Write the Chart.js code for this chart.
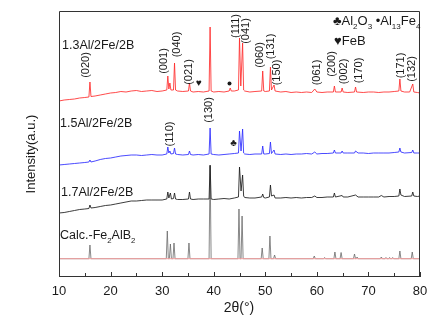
<!DOCTYPE html>
<html>
<head>
<meta charset="utf-8">
<script src="https://cdn.jsdelivr.net/npm/chart.js@4.4.1/dist/chart.umd.min.js"></script>
<style>
  html, body { margin: 0; padding: 0; background: #fff; }
  #wrap { width: 444px; height: 326px; }
</style>
</head>
<body>
<div id="wrap"><canvas id="xrdChart" width="444" height="326"></canvas></div>
<script>
'use strict';

// --- data: [2theta, intensity (a.u., offset stacked)] ---
const red13 = [
  [10,175],[11,176],[12,176.5],[13,177],[14,178],[15,178.5],[15.8,179],[16.0,194],[16.2,179.5],
  [17,180],[18,181],[19,182],[20,183],[21,183.5],[22,184.5],[23,184],[24,185],[25,185.5],
  [26,184.5],[27,185],[28,185.5],[29,184.5],[30,185],[30.9,186],[31.1,200],[31.3,187],
  [31.5,193],[31.7,186],[32.2,186],[32.4,213],[32.6,186],[33,185],[34,184.5],[35.1,185],
  [35.3,193],[35.5,185],[36,184],[37,184.5],[38,184],[39.1,185],[39.3,249],[39.5,185],
  [40,184],[41,184.5],[42,184],[43,185],[43.2,188],[43.4,185],[44,185],[44.8,186],[45.0,238],
  [45.25,190],[45.6,233],[45.8,186],[46,185],[47,184],[48,184.5],[49.3,185],[49.5,205],
  [49.7,185],[50,184.5],[50.8,185],[51.0,209],[51.2,186],[51.7,191],[51.9,185],[53,184],
  [54,184.5],[55,183.5],[56,184],[57,183.5],[58,184],[59,183.5],[59.6,187],[60,184],
  [61,183.5],[62,184],[63.2,184],[63.4,190],[63.6,184],[64.7,184],[64.9,188],[65.1,184],
  [66,183.5],[67.3,184],[67.5,189],[67.7,184],[69,183.5],[70,184],[71,184],[72,183.5],
  [73,184],[74,184],[75,184.5],[75.9,185],[76.1,197],[76.3,185],[77,184],[78,184],
  [78.6,192],[78.8,184],[79.5,183.5],[80,183]
];

const blue15 = [
  [10,111],[11,111.5],[12,112],[13,112.5],[14,113],[15,113.5],[15.8,114],[16.0,116],[16.2,114],
  [17,115],[18,116.5],[19,117.5],[20,118],[21,119],[22,120],[23,120.5],[24,121],[25,121],
  [26,120.5],[27,121],[28,121.5],[29,121],[30,121],[30.9,122],[31.1,129],[31.3,123],
  [31.5,125],[31.7,122],[32.2,122.5],[32.4,128],[32.6,122],[33,121.5],[34,121],[35.1,121.5],
  [35.3,125],[35.5,121.5],[36,121],[37,121.5],[38,121],[39.1,122],[39.3,148],[39.5,122],
  [40,121.5],[41,121],[42,121.5],[43,122],[44,122.5],[44.8,123],[45.0,145],[45.3,125],
  [45.6,147],[45.8,123],[46,122],[47,121.5],[48,122],[49.3,122],[49.5,130],[49.7,122],
  [50,122],[50.8,122.5],[51.0,134],[51.2,122.5],[51.7,126],[51.9,122],[53,121.5],[54,122],
  [55,121.5],[56,122],[57,122],[58,122.5],[59,122],[59.6,124],[60,122],[61,122.5],
  [62,122.5],[63.2,123],[63.4,126],[63.6,123],[64.7,123],[64.9,125],[65.1,123],[66,123],
  [67.3,123],[67.5,125],[68,123],[69,123],[70,122.5],[71,123],[72,123],[73,123],[74,123],
  [75,123.5],[75.9,124],[76.1,128],[76.3,124],[77,123],[78.4,123.5],[78.6,126],[78.8,123],
  [79.5,123],[80,123]
];

const black17 = [
  [10,63],[11,63.5],[12,64.5],[13,65.5],[14,66.5],[15,67],[15.8,67.5],[16.0,71],[16.2,68],
  [17,68.5],[18,69.5],[19,70.5],[20,71],[21,72],[22,73],[23,74],[24,75],[25,75],[26,75.5],
  [27,76],[28,76],[29,76],[30,76],[30.9,77],[31.1,84],[31.3,78],[31.6,83],[31.8,77],
  [32.2,77.5],[32.4,83],[32.6,77],[33,76.5],[34,76.5],[35.1,77],[35.3,84],[35.5,77],
  [36,76.5],[37,77],[38,77],[39.1,77],[39.3,111],[39.5,77],[40,76.5],[41,77],[42,77.5],
  [43,77],[44,78],[44.8,79],[45.0,109],[45.3,85],[45.6,101],[45.8,80],[46,78.5],[47,78],
  [48,78],[49.3,79],[49.5,82],[49.7,78.5],[50,78],[50.8,79],[51.0,91],[51.2,80],[51.7,81],
  [51.9,78],[53,78],[54,78.5],[55,78],[56,78.5],[57,78],[58,78.5],[59,78.5],[59.6,80],
  [60,78.5],[61,78.5],[62,79],[63.2,79],[63.4,83],[63.6,79],[64.9,80.5],[65.1,79],[66,79],
  [67.5,81],[68,79],[69,79],[70,79],[71,79],[72,79],[72.5,80.5],[73,79],[74,79.5],
  [75,79.5],[75.9,80],[76.1,87],[76.3,81],[77,79.5],[78.4,80],[78.6,84],[78.8,80],
  [79.5,79.5],[80,80]
];

// calculated Fe2AlB2 pattern: stick positions and heights on a flat base
const calcBase = 17.3;
const calcPos    = [16.0, 31.0, 31.6, 32.3, 35.2, 39.3, 44.9, 45.5, 49.4, 50.9, 51.8, 59.5, 61.5, 63.5, 64.7, 67.3, 67.8, 72.5, 73.4, 74.1, 74.7, 76.1, 78.5];
const calcHeight = [31,   45,   32,   33,   33,   110,  67,   60,   28,   40,   21,   20,   18.5, 24,   23.5, 22,   19,   19,   18.5, 18.5, 18.5, 25,   24];

const xTicks = [10, 20, 30, 40, 50, 60, 70, 80];

// peak labels [text, px x, px y]
const redLabels = [
  ['(020)', 86, 65], ['(001)', 164, 61], ['(040)', 176.5, 44.5], ['(021)', 188.5, 72],
  ['(111)', 236, 26], ['(041)', 246, 31], ['(060)', 259.5, 55], ['(131)', 270.5, 46.5],
  ['(150)', 276.5, 72.5], ['(061)', 317, 72.5], ['(200)', 332, 64], ['(002)', 343.5, 71.5],
  ['(170)', 358.5, 70.5], ['(171)', 400.5, 65.5], ['(132)', 412, 69]
];
const blueLabels = [['(110)', 170, 134], ['(130)', 209, 110]];

const FONT = '"Liberation Sans", Arial, "DejaVu Sans", sans-serif';

function pts(arr) { return arr.map(p => ({ x: p[0], y: p[1] })); }

function calcSticks() {
  const out = [{ x: 10, y: calcBase }];
  calcPos.forEach((p, i) => {
    out.push({ x: p - 0.2, y: calcBase }, { x: p, y: calcHeight[i] }, { x: p + 0.2, y: calcBase });
  });
  out.push({ x: 80, y: calcBase });
  return out;
}

// text pieces with subscripts: [text, isSub]
function drawRich(ctx, parts, x, y, size) {
  let cx = x;
  parts.forEach(([t, sub]) => {
    ctx.font = (sub ? size * 0.62 : size) + 'px ' + FONT;
    ctx.fillText(t, cx, sub ? y + 3.5 : y);
    cx += ctx.measureText(t).width;
  });
}

const decor = {
  id: 'decor',
  afterDatasetsDraw(chart) {
    const ctx = chart.ctx;
    const a = chart.chartArea;
    const xs = chart.scales.x;
    ctx.save();

    // frame + inward ticks
    ctx.strokeStyle = '#333';
    ctx.lineWidth = 1;
    ctx.beginPath();
    ctx.moveTo(a.left + 0.5, a.bottom);
    ctx.lineTo(a.left + 0.5, a.top + 0.5);
    ctx.lineTo(a.right - 0.5, a.top + 0.5);
    ctx.lineTo(a.right - 0.5, a.bottom);
    for (let v = 10; v <= 80; v += 5) {
      const px = Math.round(xs.getPixelForValue(v)) + 0.5;
      ctx.moveTo(px, a.bottom);
      ctx.lineTo(px, a.bottom - (v % 10 === 0 ? 4 : 3));
    }
    ctx.stroke();

    ctx.fillStyle = '#1a1a1a';
    ctx.textBaseline = 'alphabetic';
    ctx.textAlign = 'left';

    // sample names
    ctx.font = '12.5px ' + FONT;
    ctx.fillText('1.3Al/2Fe/2B', 62, 48.5);
    ctx.fillText('1.5Al/2Fe/2B', 60, 127);
    ctx.fillText('1.7Al/2Fe/2B', 61, 196);
    drawRich(ctx, [['Calc.-Fe'], ['2', 1], ['AlB'], ['2', 1]], 60, 239, 12.5);

    // legend
    drawRich(ctx, [['\u2663'], ['Al'], ['2', 1], ['O'], ['3', 1], [' \u2022Al'], ['13', 1], ['Fe'], ['4', 1]], 333, 25, 13);
    drawRich(ctx, [['\u2665'], ['FeB']], 334, 44.5, 13);

    // phase markers
    ctx.textAlign = 'center';
    ctx.textBaseline = 'middle';
    ctx.font = '10px ' + FONT;
    ctx.fillText('\u2665', 199, 83);
    ctx.fillText('\u2663', 233.5, 143);
    ctx.beginPath();
    ctx.arc(229.5, 83.5, 2, 0, Math.PI * 2);
    ctx.fill();

    // hkl labels
    ctx.font = '11px ' + FONT;
    redLabels.concat(blueLabels).forEach(([t, x, y]) => {
      ctx.save();
      ctx.translate(x, y);
      ctx.rotate(-Math.PI / 2);
      ctx.fillText(t, 0, 0);
      ctx.restore();
    });

    // axis titles
    ctx.font = '13px ' + FONT;
    ctx.save();
    ctx.translate(31, 154);
    ctx.rotate(-Math.PI / 2);
    ctx.fillText('Intensity(a.u.)', 0, 0);
    ctx.restore();
    ctx.font = '14px ' + FONT;
    ctx.fillText('2\u03b8(\u00b0)', 239, 308);

    ctx.restore();
  }
};

const line = (data, color, width, order) => ({
  data, borderColor: color, borderWidth: width, pointRadius: 0, tension: 0, fill: false, order
});

new Chart(document.getElementById('xrdChart').getContext('2d'), {
  type: 'line',
  data: {
    datasets: [
      line(pts(red13), '#ff2a2a', 0.85, 3),
      line(pts(blue15), '#2a2aff', 0.85, 3),
      line(pts(black17), '#1a1a1a', 0.85, 3),
      line(calcSticks(), '#6a6a6a', 0.8, 4),
      line([{ x: 10, y: calcBase }, { x: 80, y: calcBase }], '#f4a0a0', 1, 2),
    ],
  },
  options: {
    responsive: false,
    animation: false,
    events: [],
    layout: { padding: { left: 59, right: 24, top: 11, bottom: 0 } },
    plugins: { legend: { display: false }, tooltip: { enabled: false } },
    scales: {
      x: {
        type: 'linear', min: 10, max: 80,
        afterBuildTicks: s => { s.ticks = xTicks.map(v => ({ value: v })); },
        afterFit: s => { s.height = 50; },
        grid: { display: false, drawTicks: false },
        border: { display: true, color: '#333', width: 1 },
        ticks: { padding: 8, color: '#1a1a1a', font: { size: 13, family: FONT } },
      },
      y: { display: false, min: 0, max: 265 },
    },
  },
  plugins: [decor],
});
</script>
</body>
</html>
